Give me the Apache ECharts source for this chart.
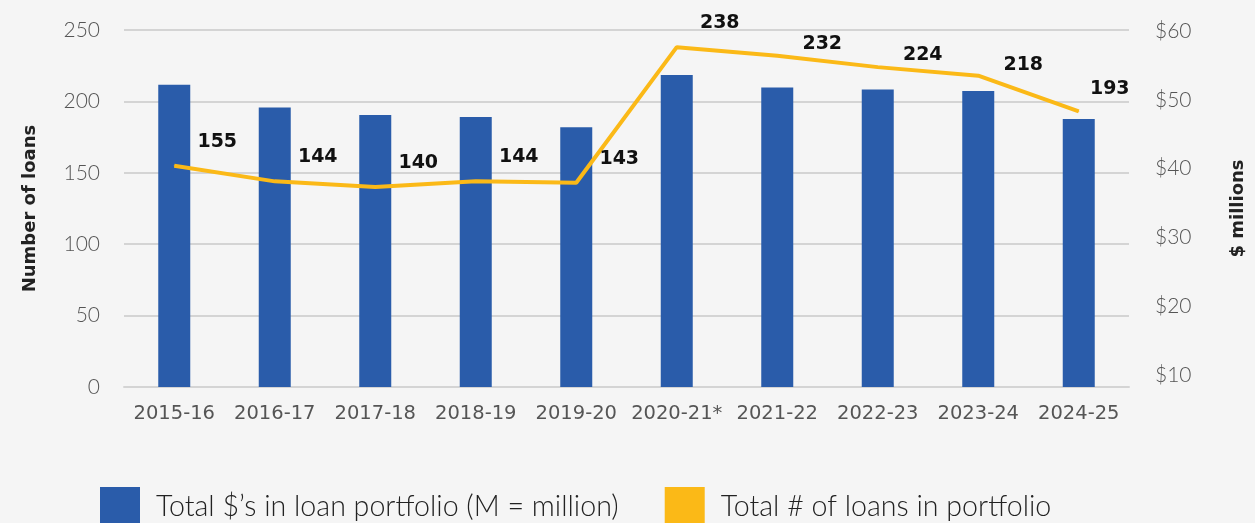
<!DOCTYPE html>
<html>
<head>
<meta charset="utf-8">
<script src="https://cdn.jsdelivr.net/npm/echarts@6/dist/echarts.min.js"></script>
<style>
  html, body { margin: 0; padding: 0; background: #f5f5f5; }
</style>
</head>
<body>
<div id="chart" style="width: 1255px; height: 523px;"></div>
<script>
// fiscal years
const years = ['2015-16', '2016-17', '2017-18', '2018-19', '2019-20', '2020-21*', '2021-22', '2022-23', '2023-24', '2024-25'];
// total $ in portfolio ($ millions)
const dollars = [52.2, 48.9, 47.8, 47.5, 46.0, 53.6, 51.8, 51.5, 51.3, 47.2];
// number of loans in portfolio
const loans = [155, 144, 140, 144, 143, 238, 232, 224, 218, 193];
// right axis labels
const dollarTicks = [10, 20, 30, 40, 50, 60];

// label nudges where the original sits lower / further left
const labelNudge = { 6: [45, 3], 7: [45, 3], 8: [45, 4], 9: [31, -7] };

const myChart = echarts.init(document.getElementById('chart'));

const lineData = loans.map((v, i) =>
  labelNudge[i] ? { value: v, label: { offset: labelNudge[i] } } : v
);

const option = {
  backgroundColor: '#f5f5f5',
  animation: false,
  grid: { left: 124, right: 111, top: 30, bottom: 136 },
  legend: {
    left: 95,
    top: 482,
    itemWidth: 40,
    itemHeight: 40,
    itemGap: 46,
    icon: 'rect',
    textStyle: {
      fontFamily: 'Lato, sans-serif',
      fontWeight: 300,
      fontSize: 28.6,
      color: '#222',
      padding: [0, 0, 0, 11]
    },
    data: ['Total $’s in loan portfolio (M = million)', 'Total # of loans in portfolio']
  },
  xAxis: {
    type: 'category',
    data: years,
    axisTick: { show: false },
    axisLine: { lineStyle: { color: '#d4d4d4', width: 2 } },
    axisLabel: {
      interval: 0,
      fontFamily: 'DejaVu Sans, sans-serif',
      fontSize: 19.5,
      color: '#555',
      margin: 17
    }
  },
  yAxis: [
    {
      type: 'value',
      min: 0,
      max: 250,
      interval: 50,
      name: 'Number of loans',
      nameLocation: 'middle',
      nameRotate: 90,
      nameGap: 85,
      nameTextStyle: { fontFamily: 'DejaVu Sans, sans-serif', fontWeight: 'bold', fontSize: 18, color: '#222' },
      axisLine: { show: false },
      axisTick: { show: false },
      axisLabel: { fontFamily: 'Lato, sans-serif', fontWeight: 300, fontSize: 21, color: '#555', margin: 24 },
      splitLine: { lineStyle: { color: '#d4d4d4', width: 2 } }
    },
    {
      type: 'value',
      min: 8.26,
      max: 60.15,
      name: '$ millions',
      nameLocation: 'middle',
      nameRotate: 90,
      nameGap: 100,
      nameTextStyle: { fontFamily: 'DejaVu Sans, sans-serif', fontWeight: 'bold', fontSize: 18, color: '#222' },
      axisLine: { show: false },
      axisTick: { show: false },
      splitLine: { show: false },
      axisLabel: {
        customValues: dollarTicks,
        formatter: (v) => '$' + v,
        fontFamily: 'Lato, sans-serif',
        fontWeight: 300,
        fontSize: 21,
        color: '#555',
        margin: 26
      }
    }
  ],
  series: [
    {
      name: 'Total $’s in loan portfolio (M = million)',
      type: 'bar',
      yAxisIndex: 1,
      data: dollars,
      barWidth: 32,
      itemStyle: { color: '#2a5caa' }
    },
    {
      name: 'Total # of loans in portfolio',
      type: 'line',
      yAxisIndex: 0,
      data: lineData,
      symbol: 'circle',
      symbolSize: 1,
      showSymbol: true,
      lineStyle: { color: '#fbb917', width: 4 },
      itemStyle: { color: '#fbb917' },
      label: {
        show: true,
        position: 'top',
        offset: [43, -9],
        fontFamily: 'DejaVu Sans, sans-serif',
        fontWeight: 'bold',
        fontSize: 19,
        color: '#111'
      }
    }
  ]
};

myChart.setOption(option);
</script>
</body>
</html>
